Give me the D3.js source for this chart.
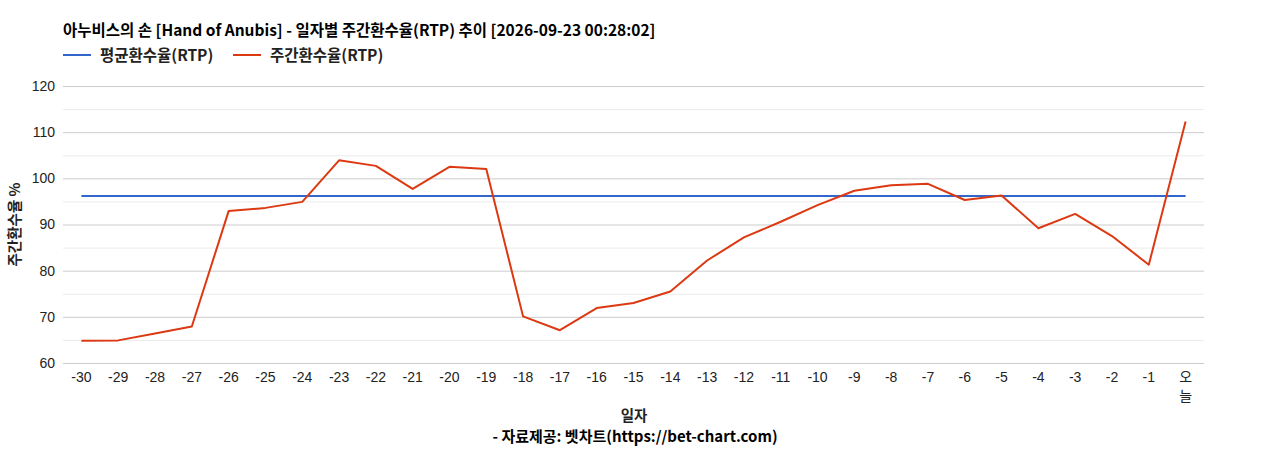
<!DOCTYPE html>
<html><head><meta charset="utf-8">
<script src="https://cdn.jsdelivr.net/npm/d3@7/dist/d3.min.js"></script>
<style>
html,body{margin:0;padding:0;background:#fff;}
svg{display:block;}
</style></head>
<body><svg id="chart" width="1268" height="450"></svg>
<script>
const titleText = "아누비스의 손 [Hand of Anubis] - 일자별 주간환수율(RTP) 추이 [2026-09-23 00:28:02]";
const categories = ["-30","-29","-28","-27","-26","-25","-24","-23","-22","-21","-20","-19","-18","-17","-16","-15","-14","-13","-12","-11","-10","-9","-8","-7","-6","-5","-4","-3","-2","-1","오늘"];
const weeklyRTP = [64.8,64.9,66.4,67.9,92.9,93.6,94.9,103.9,102.7,97.7,102.5,102.0,70.1,67.1,71.9,73.0,75.5,82.2,87.2,90.6,94.2,97.3,98.5,98.8,95.3,96.3,89.2,92.3,87.5,81.3,112.3];
const averageRTP = categories.map(() => 96.2);
const yTicks = [60,70,80,90,100,110,120];
const yMinorTicks = [65,75,85,95,105,115];
const seriesNames = ["평균환수율(RTP)","주간환수율(RTP)"];
const colors = ["#3366cc","#dc3912"];

const svg = d3.select("#chart");
const KR = "'Noto Sans CJK KR','Noto Sans',sans-serif";
const AR = "Arial,'Liberation Sans',sans-serif";
const L = 63, R = 1204, T = 86, B = 363;

const x = d3.scaleBand().domain(categories).range([L, R]);
const y = d3.scaleLinear().domain([60,120]).range([B, T]);

// gridlines
svg.append("g").selectAll("line").data(yMinorTicks).join("line")
  .attr("x1", L).attr("x2", R).attr("y1", d=>y(d)+0.5).attr("y2", d=>y(d)+0.5)
  .attr("stroke", "#ebebeb").attr("stroke-width", 1);
svg.append("g").selectAll("line").data(yTicks).join("line")
  .attr("x1", L).attr("x2", R).attr("y1", d=>y(d)+0.5).attr("y2", d=>y(d)+0.5)
  .attr("stroke", "#cccccc").attr("stroke-width", 1);

// y axis labels
const yAxis = d3.axisLeft(y).tickValues(yTicks).tickSize(0).tickPadding(8);
const yg = svg.append("g").attr("transform", `translate(${L},0)`).call(yAxis);
yg.select(".domain").remove();
yg.selectAll("text").attr("font-family", AR).attr("font-size", 14).attr("fill", "#222");

// x axis labels
const xAxis = d3.axisBottom(x).tickSize(0).tickPadding(0);
const xg = svg.append("g").attr("transform", `translate(0,${B})`).call(xAxis);
xg.select(".domain").remove();
xg.selectAll("text").attr("font-family", AR).attr("font-size", 14).attr("fill", "#222")
  .attr("dy", null).attr("y", 19)
  .each(function(d){
    const t = d3.select(this);
    if (d.length > 1 && !/^-?\d+$/.test(d)) {
      t.text(null).attr("font-family", KR);
      [...d].forEach((ch,i)=> t.append("tspan").attr("x",0).attr("y", 19 + i*19).text(ch));
    }
  });

// lines
const line = d3.line().x((d,i)=>x(categories[i]) + x.bandwidth()/2).y(d=>y(d));
svg.append("path").datum(averageRTP).attr("d", line).attr("fill","none")
  .attr("stroke", colors[0]).attr("stroke-width", 2);
svg.append("path").datum(weeklyRTP).attr("d", line).attr("fill","none")
  .attr("stroke", colors[1]).attr("stroke-width", 2).attr("stroke-linejoin","round");

// title
svg.append("text").attr("x", L).attr("y", 36).attr("font-family", KR).attr("font-weight", "bold")
  .attr("font-size", 15.5).attr("fill", "#000").text(titleText);

// legend
const legX = [63, 233];
seriesNames.forEach((n,i)=>{
  const g = svg.append("g").attr("transform", `translate(${legX[i]},55)`);
  g.append("line").attr("x1",0).attr("x2",28).attr("y1",0).attr("y2",0).attr("stroke",colors[i]).attr("stroke-width",2);
  g.append("text").attr("x",37).attr("y",5.5).attr("font-family",KR).attr("font-weight","bold")
    .attr("font-size",15.5).attr("fill","#222").text(n);
});

// axis titles
svg.append("text").attr("transform", `translate(20,${(T+B)/2}) rotate(-90)`).attr("text-anchor","middle")
  .attr("font-family", KR).attr("font-weight","bold").attr("font-size",14.5).attr("fill","#222").text("주간환수율 %");
svg.append("text").attr("x", 634).attr("y", 421).attr("text-anchor","middle")
  .attr("font-family", KR).attr("font-weight","bold").attr("font-size",14.5).attr("fill","#222").text("일자");
svg.append("text").attr("x", 635).attr("y", 442).attr("text-anchor","middle")
  .attr("font-family", KR).attr("font-weight","bold").attr("font-size",15).attr("fill","#000").text("- 자료제공: 벳차트(https://bet-chart.com)");
</script></body></html>
